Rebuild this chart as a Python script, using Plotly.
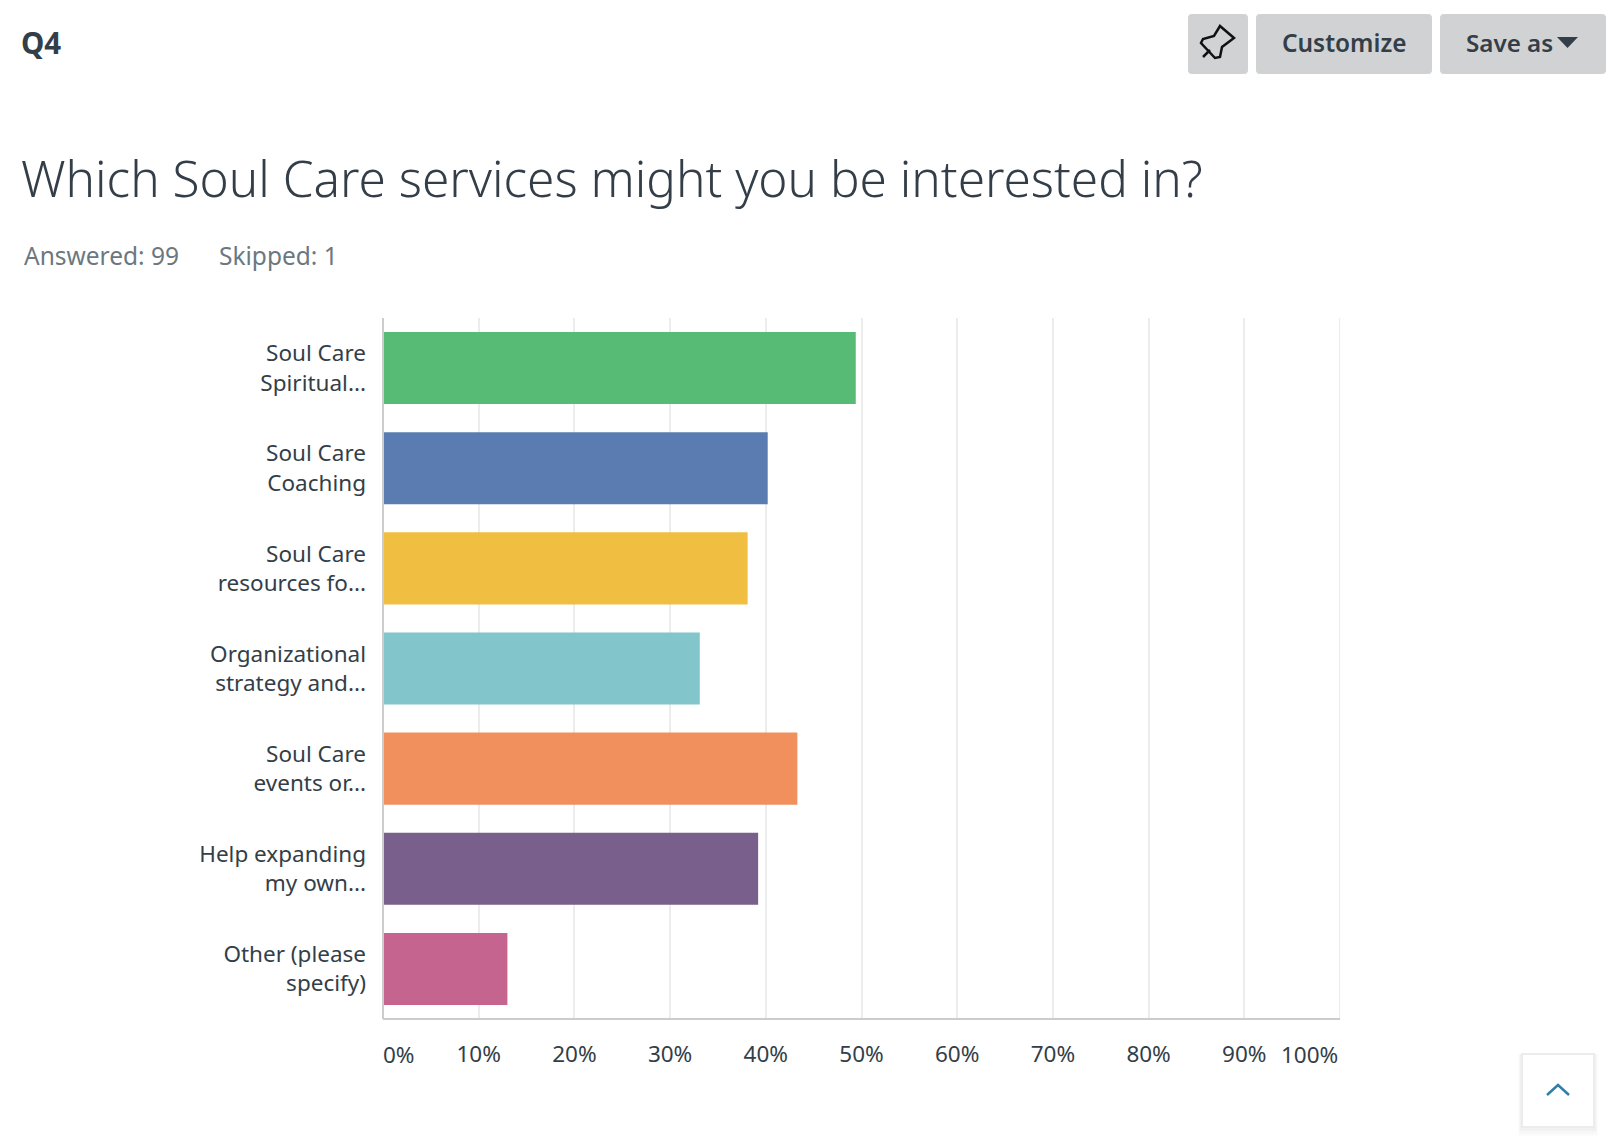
import plotly.graph_objects as go

# page size less the 8px body margin of the html page
W, H = 1608, 1128
L, R, T, B = 383, 1340, 318, 1019  # plot area in page pixels

# data
categories = ["Soul Care<br>Spiritual...", "Soul Care<br>Coaching", "Soul Care<br>resources fo...",
              "Organizational<br>strategy and...", "Soul Care<br>events or...",
              "Help expanding<br>my own...", "Other (please<br>specify)"]
percent = [49.4, 40.2, 38.1, 33.1, 43.3, 39.2, 13.0]
colors = ["#57bb75", "#5a7cb1", "#f0bf42", "#82c6cb", "#f1905c", "#795f8b", "#c5648f"]
tick_vals = [10, 20, 30, 40, 50, 60, 70, 80, 90]
tick_text = ["10%", "20%", "30%", "40%", "50%", "60%", "70%", "80%", "90%"]

FONT = "Noto Sans"
INK = "#333e48"
TICK = 22.5


def px(x):
    return (x - L) / (R - L)


def py(y):
    return (B - y) / (B - T)


def round_rect(x0, y0, x1, y1, r=4):
    return (f"M{px(x0 + r)},{py(y0)} L{px(x1 - r)},{py(y0)} Q{px(x1)},{py(y0)} {px(x1)},{py(y0 + r)} "
            f"L{px(x1)},{py(y1 - r)} Q{px(x1)},{py(y1)} {px(x1 - r)},{py(y1)} "
            f"L{px(x0 + r)},{py(y1)} Q{px(x0)},{py(y1)} {px(x0)},{py(y1 - r)} "
            f"L{px(x0)},{py(y0 + r)} Q{px(x0)},{py(y0)} {px(x0 + r)},{py(y0)} Z")


def poly(points, close=False):
    d = "M" + " L".join(f"{px(a)},{py(b)}" for a, b in points)
    return d + (" Z" if close else "")


def box(x0, y0, x1, y1):
    return poly([(x0, y0), (x1, y0), (x1, y1), (x0, y1)], True)


fig = go.Figure(go.Bar(
    y=categories, x=percent, orientation="h", marker=dict(color=colors, line_width=0),
    width=0.72, hoverinfo="skip"))

fig.update_layout(
    width=W, height=H, showlegend=False, plot_bgcolor="white", paper_bgcolor="white",
    margin=dict(l=L - 8, r=W - (R - 8), t=T - 8, b=H - (B - 8), autoexpand=False),
    font=dict(family=FONT, color=INK, size=TICK),
)
fig.update_yaxes(autorange="reversed", ticks="", showgrid=False, showline=False, zeroline=False,
                 tickfont=dict(size=TICK, color=INK), ticklabelstandoff=16)
fig.update_xaxes(range=[0, 100], tickvals=tick_vals, ticktext=tick_text, ticks="", showgrid=True,
                 gridcolor="#ececec", gridwidth=2, zeroline=False, showline=False,
                 tickfont=dict(size=TICK, color=INK), ticklabelstandoff=19)

# axis lines and the end gridline
fig.add_shape(type="line", xref="x", yref="paper", x0=100, x1=100, y0=0, y1=1, line=dict(color="#ececec", width=2), layer="below")
fig.add_shape(type="line", xref="paper", yref="paper", x0=0, x1=1, y0=0, y1=0, line=dict(color="#cccccc", width=2))
fig.add_shape(type="line", xref="paper", yref="paper", x0=0, x1=0, y0=0, y1=1, line=dict(color="#cccccc", width=2))

fig.add_annotation(x=0, y=0, xref="x", yref="paper", text="0%", showarrow=False, xanchor="left", yanchor="top",
                   yshift=-18, xshift=-2, font=dict(size=TICK, color=INK))
fig.add_annotation(x=100, y=0, xref="x", yref="paper", text="100%", showarrow=False, xanchor="right", yanchor="top",
                   yshift=-18, font=dict(size=TICK, color=INK))


def label(x, y, text, size, color=INK, anchor="left", weight=None):
    fig.add_annotation(x=px(x), y=py(y), xref="paper", yref="paper", text=text, showarrow=False,
                       xanchor=anchor, yanchor="middle", font=dict(size=size, color=color, family=FONT, weight=weight))


label(19, 42.5, "Q4", 29.5, weight=700)
label(19, 178, "Which Soul Care services might you be interested in?", 49.5, color="#333e48", weight=300)
label(22, 255, "Answered: 99", 24.5, color="#6b787f")
label(217, 255, "Skipped: 1", 24.5, color="#6b787f")

# toolbar buttons
GREY = "#d0d2d3"
for x0, x1 in [(1188, 1248), (1256, 1432), (1440, 1606)]:
    fig.add_shape(type="path", xref="paper", yref="paper", path=round_rect(x0, 14, x1, 74), fillcolor=GREY, line_width=0)
label(1344, 42.5, "Customize", 24.4, anchor="center", weight=600)
label(1464, 42.5, "Save as", 24.2, weight=600)
fig.add_shape(type="path", xref="paper", yref="paper", path=poly([(1557, 37), (1578, 37), (1567.5, 48)], True), fillcolor=INK, line_width=0)

# pin icon
pin = [(1220, 26), (1234, 38), (1222, 47), (1220, 57), (1215, 58), (1201, 43), (1203, 39), (1214, 36)]
fig.add_shape(type="path", xref="paper", yref="paper", path=poly(pin, True), line=dict(color="#111111", width=2.5))
fig.add_shape(type="path", xref="paper", yref="paper", path=poly([(1203, 57), (1210, 50)]), line=dict(color="#111111", width=2.5))

# back to top button
for grow, drop, alpha in [(3, 9, 0.012), (2, 6, 0.018), (1, 3, 0.025)]:
    fig.add_shape(type="path", xref="paper", yref="paper", path=box(1521 - grow, 1054, 1595 + grow, 1128 + drop),
                  fillcolor=f"rgba(0,0,0,{alpha})", line_width=0)
fig.add_shape(type="path", xref="paper", yref="paper", path=box(1521, 1053, 1595, 1128), fillcolor="#ececec", line_width=0)
fig.add_shape(type="path", xref="paper", yref="paper", path=box(1523, 1055, 1593, 1126), fillcolor="white", line_width=0)
fig.add_shape(type="path", xref="paper", yref="paper", path=poly([(1547, 1095), (1558, 1085), (1569, 1095)]),
              line=dict(color="#2f7fa8", width=2.5))

fig.write_html("out.html")
